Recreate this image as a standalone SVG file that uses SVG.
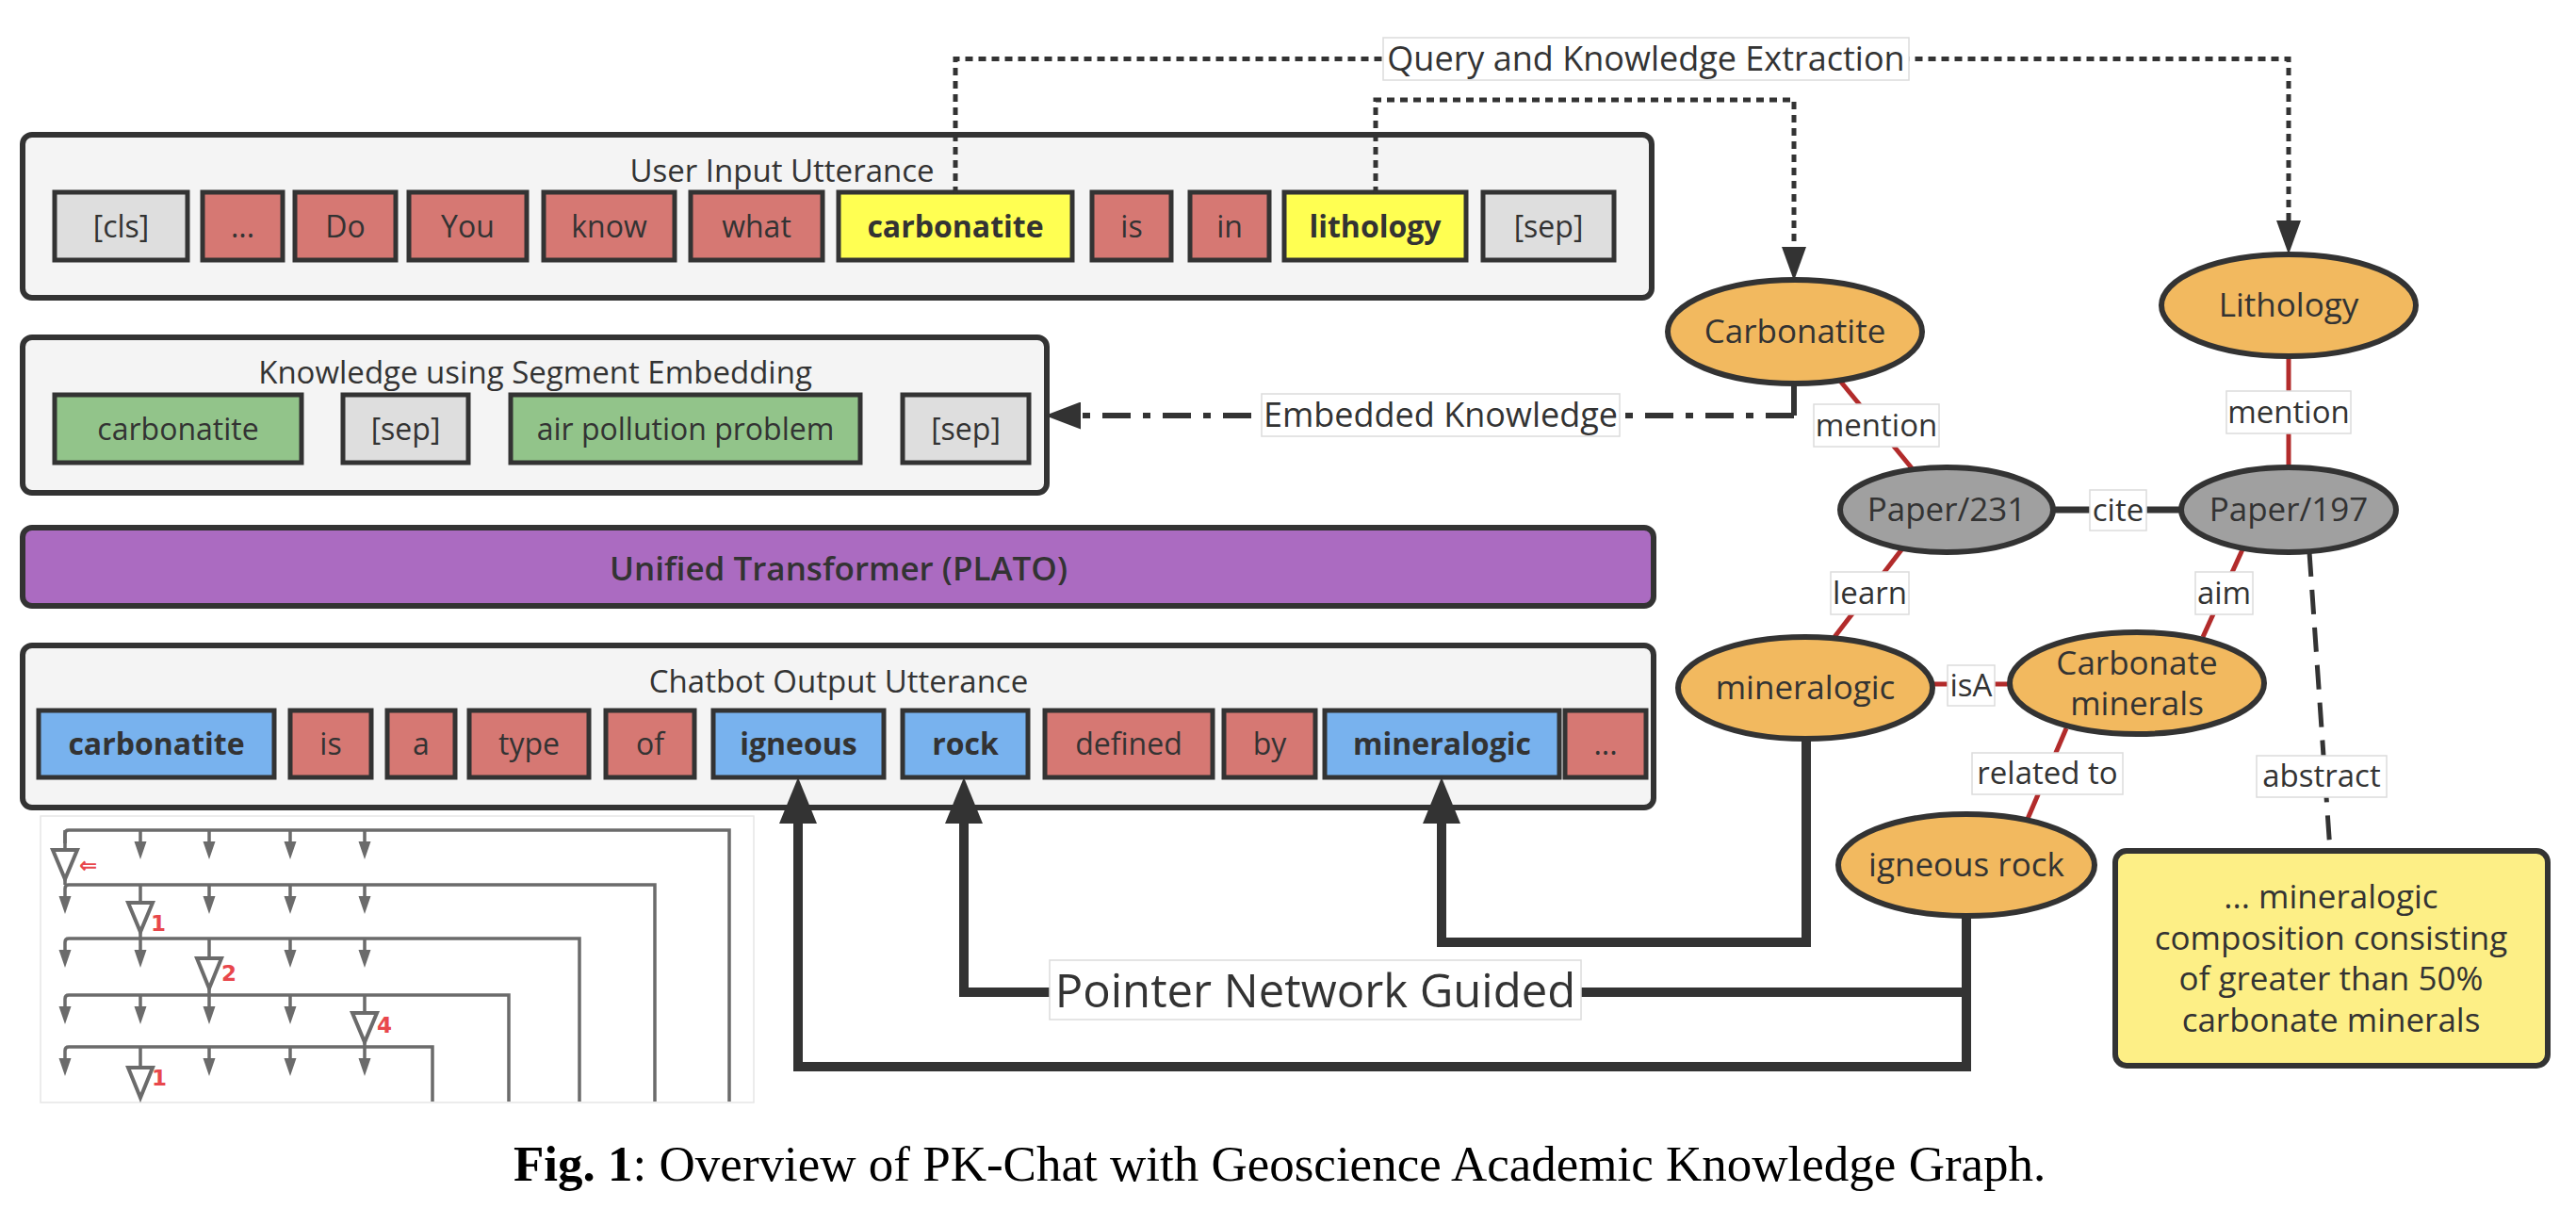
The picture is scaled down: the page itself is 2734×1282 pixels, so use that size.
<svg xmlns="http://www.w3.org/2000/svg" width="2734" height="1282" viewBox="0 0 2734 1282">
<style>
.t{font-family:"Open Sans","Liberation Sans",sans-serif;fill:#333;text-anchor:middle}
.tok{font-size:32px}
.b{font-weight:700}
.ttl{font-size:33px}
.el{font-size:35px}
.lb{font-size:33px}
.box{fill:#f4f4f4;stroke:#333;stroke-width:6}
.tk{stroke:#333;stroke-width:5}
.gy{fill:#dedede}.rd{fill:#d67873}.yl{fill:#ffff52}.gn{fill:#92c48a}.bl{fill:#78b2ee}
.ell{stroke:#333;stroke-width:6}
.or{fill:#f2b95f}.pg{fill:#a0a0a0}
.lbl{fill:#fff;stroke:#dcdcdc;stroke-width:1.5}
.redE{stroke:#b22b2b;stroke-width:5;fill:none}
.dot{stroke:#333;stroke-width:5;fill:none;stroke-dasharray:8 6}
.thick{stroke:#333;stroke-width:10;fill:none;stroke-linejoin:miter}
.pn{stroke:#6b6b6b;stroke-width:3.5;fill:none}
.pa{fill:#6b6b6b}
.pt{fill:#fff;stroke:#6b6b6b;stroke-width:4}
.rn{font-family:"DejaVu Sans","Liberation Sans",sans-serif;fill:#e8474c;font-size:23px;font-weight:700}
</style>
<defs>
<marker id="arr" viewBox="0 0 36 26" refX="0" refY="13" markerWidth="36" markerHeight="26" markerUnits="userSpaceOnUse" orient="auto"><path d="M0,0 L36,13 L0,26 z" fill="#333"/></marker>
<marker id="arrE" viewBox="0 0 38 29" refX="0" refY="14.5" markerWidth="38" markerHeight="29" markerUnits="userSpaceOnUse" orient="auto"><path d="M0,0 L38,14.5 L0,29 z" fill="#333"/></marker>
<marker id="big" viewBox="0 0 49 40" refX="0" refY="20" markerWidth="49" markerHeight="40" markerUnits="userSpaceOnUse" orient="auto"><path d="M0,0 L49,20 L0,40 z" fill="#333"/></marker>
</defs>
<rect width="2734" height="1282" fill="#fff"/>

<!-- User input -->
<g id="user-input">
<rect class="box" x="24" y="143" width="1729" height="173" rx="10"/>
<text class="t ttl" x="830" y="193">User Input Utterance</text>
<rect class="tk gy" x="58" y="204" width="141" height="72"/><text class="t tok" x="128.5" y="252">[cls]</text>
<rect class="tk rd" x="215" y="204" width="85" height="72"/><text class="t tok" x="257.5" y="252">...</text>
<rect class="tk rd" x="313" y="204" width="107" height="72"/><text class="t tok" x="366.5" y="252">Do</text>
<rect class="tk rd" x="434" y="204" width="125" height="72"/><text class="t tok" x="496.5" y="252">You</text>
<rect class="tk rd" x="577" y="204" width="139" height="72"/><text class="t tok" x="646.5" y="252">know</text>
<rect class="tk rd" x="733" y="204" width="140" height="72"/><text class="t tok" x="803" y="252">what</text>
<rect class="tk yl" x="890" y="204" width="248" height="72"/><text class="t tok b" x="1014" y="252">carbonatite</text>
<rect class="tk rd" x="1159" y="204" width="84" height="72"/><text class="t tok" x="1201" y="252">is</text>
<rect class="tk rd" x="1263" y="204" width="84" height="72"/><text class="t tok" x="1305" y="252">in</text>
<rect class="tk yl" x="1363" y="204" width="193" height="72"/><text class="t tok b" x="1459.5" y="252">lithology</text>
<rect class="tk gy" x="1574" y="204" width="139" height="72"/><text class="t tok" x="1643.5" y="252">[sep]</text>
</g>

<g id="knowledge">
<rect class="box" x="24" y="358" width="1087" height="165" rx="10"/>
<text class="t ttl" x="568" y="407">Knowledge using Segment Embedding</text>
<rect class="tk gn" x="58" y="419" width="262" height="72"/><text class="t tok" x="189" y="467">carbonatite</text>
<rect class="tk gy" x="364" y="419" width="133" height="72"/><text class="t tok" x="430.5" y="467">[sep]</text>
<rect class="tk gn" x="542" y="419" width="371" height="72"/><text class="t tok" x="727.5" y="467">air pollution problem</text>
<rect class="tk gy" x="958" y="419" width="134" height="72"/><text class="t tok" x="1025" y="467">[sep]</text>
</g>

<g id="plato">
<rect x="24" y="560" width="1731" height="83" rx="10" fill="#ab6bc1" stroke="#333" stroke-width="6"/>
<text class="t" x="890" y="616" style="font-size:35px;font-weight:600">Unified Transformer (PLATO)</text>
</g>

<g id="chatbot-output">
<rect class="box" x="24" y="685" width="1731" height="172" rx="10"/>
<text class="t ttl" x="890" y="735">Chatbot Output Utterance</text>
<rect class="tk bl" x="41" y="754" width="250" height="71"/><text class="t tok b" x="166" y="801">carbonatite</text>
<rect class="tk rd" x="308" y="754" width="86" height="71"/><text class="t tok" x="351" y="801">is</text>
<rect class="tk rd" x="411" y="754" width="72" height="71"/><text class="t tok" x="447" y="801">a</text>
<rect class="tk rd" x="498" y="754" width="127" height="71"/><text class="t tok" x="561.5" y="801">type</text>
<rect class="tk rd" x="643" y="754" width="94" height="71"/><text class="t tok" x="690" y="801">of</text>
<rect class="tk bl" x="757" y="754" width="181" height="71"/><text class="t tok b" x="847.5" y="801">igneous</text>
<rect class="tk bl" x="958" y="754" width="133" height="71"/><text class="t tok b" x="1024.5" y="801">rock</text>
<rect class="tk rd" x="1109" y="754" width="178" height="71"/><text class="t tok" x="1198" y="801">defined</text>
<rect class="tk rd" x="1299" y="754" width="97" height="71"/><text class="t tok" x="1347.5" y="801">by</text>
<rect class="tk bl" x="1406" y="754" width="249" height="71"/><text class="t tok b" x="1530.5" y="801">mineralogic</text>
<rect class="tk rd" x="1661" y="754" width="86" height="71"/><text class="t tok" x="1704" y="801">...</text>
</g>

<!-- pointer network illustration -->
<g id="pointer-network-illustration">
<rect x="43" y="866" width="757" height="304" fill="#fff" stroke="#e6e6e6" stroke-width="1.5"/>
<path class="pn" d="M69,895 V885 Q69,881 73,881 H774 V1169"/>
<path class="pn" d="M69,953 V943 Q69,939 73,939 H695 V1169"/>
<path class="pn" d="M69,1010 V1000 Q69,996 73,996 H615 V1169"/>
<path class="pn" d="M69,1070 V1060 Q69,1056 73,1056 H540 V1169"/>
<path class="pn" d="M69,1125 V1115 Q69,1111 73,1111 H459 V1169"/>
<!-- row1 small arrows -->
<path class="pn" d="M149,881 V895 M222,881 V895 M308,881 V895 M387,881 V895"/>
<path class="pa" d="M142.5,893 h13 l-6.5,19 z M215.5,893 h13 l-6.5,19 z M301.5,893 h13 l-6.5,19 z M380.5,893 h13 l-6.5,19 z"/>
<!-- row2 -->
<path class="pn" d="M222,939 V953 M308,939 V953 M387,939 V953"/>
<path class="pa" d="M62.5,951 h13 l-6.5,19 z M215.5,951 h13 l-6.5,19 z M301.5,951 h13 l-6.5,19 z M380.5,951 h13 l-6.5,19 z"/>
<!-- row3 -->
<path class="pn" d="M149,996 V1010 M308,996 V1010 M387,996 V1010"/>
<path class="pa" d="M62.5,1008 h13 l-6.5,19 z M142.5,1008 h13 l-6.5,19 z M301.5,1008 h13 l-6.5,19 z M380.5,1008 h13 l-6.5,19 z"/>
<!-- row4 -->
<path class="pn" d="M149,1056 V1070 M222,1056 V1070 M308,1056 V1070"/>
<path class="pa" d="M62.5,1068 h13 l-6.5,19 z M142.5,1068 h13 l-6.5,19 z M215.5,1068 h13 l-6.5,19 z M301.5,1068 h13 l-6.5,19 z"/>
<!-- row5 -->
<path class="pn" d="M222,1111 V1125 M308,1111 V1125 M387,1111 V1125"/>
<path class="pa" d="M62.5,1123 h13 l-6.5,19 z M215.5,1123 h13 l-6.5,19 z M301.5,1123 h13 l-6.5,19 z M380.5,1123 h13 l-6.5,19 z"/>
<!-- selected stems and hollow triangles -->
<path class="pn" d="M69,881 V939 M149,939 V996 M222,996 V1056 M387,1056 V1111 M149,1111 V1150"/>
<path class="pt" d="M56,902 H82 L69,933 Z"/>
<path class="pt" d="M136,958 H162 L149,989 Z"/>
<path class="pt" d="M209,1017 H235 L222,1049 Z"/>
<path class="pt" d="M374,1075 H400 L387,1106 Z"/>
<path class="pt" d="M136,1133 H162 L149,1165 Z"/>
<text class="rn" x="84" y="926">⇐</text>
<text class="rn" x="160" y="988">1</text>
<text class="rn" x="235" y="1041">2</text>
<text class="rn" x="400" y="1096">4</text>
<text class="rn" x="161" y="1152">1</text>
</g>

<!-- connectors -->
<g id="connectors">
<path class="dot" d="M1014,206 V62.5 H2429 V234" marker-end="url(#arr)"/>
<path class="dot" d="M1460,206 V106 H1904 V262" marker-end="url(#arr)"/>
<path d="M1904,407 V441" stroke="#333" stroke-width="6"/>
<path d="M1904,441 H1147" stroke="#333" stroke-width="6" fill="none" stroke-dasharray="30 13 8 13" marker-end="url(#arrE)"/>
<path class="redE" d="M1952,403 L2030,498"/>
<path class="redE" d="M2429,379 V496"/>
<path class="redE" d="M2020,581 L1947,676"/>
<path class="redE" d="M2381,581 L2338,676"/>
<path class="redE" d="M2051,726 H2133"/>
<path class="redE" d="M2193,773 L2152,869"/>
<path d="M2180,541 H2314" stroke="#333" stroke-width="7"/>
<path d="M2451,586 L2473,903" stroke="#333" stroke-width="5" stroke-dasharray="26 14" fill="none"/>
<path class="thick" d="M2087,972 V1132 H847 V874" marker-end="url(#big)"/>
<path class="thick" d="M2087,1053 H1023 V874" marker-end="url(#big)"/>
<path class="thick" d="M1917,784 V1000 H1530 V874" marker-end="url(#big)"/>
<rect class="lbl" x="1468" y="40" width="558" height="45"/><text class="t" style="font-size:36px" x="1747" y="75">Query and Knowledge Extraction</text>
<rect class="lbl" x="1339" y="418" width="380" height="45"/><text class="t" style="font-size:36px" x="1529" y="453">Embedded Knowledge</text>
<rect class="lbl" x="1925" y="429" width="133" height="45"/><text class="t lb" x="1991.5" y="463">mention</text>
<rect class="lbl" x="2363" y="415" width="132" height="45"/><text class="t lb" x="2429" y="449">mention</text>
<rect class="lbl" x="2218" y="520" width="60" height="43"/><text class="t lb" x="2248" y="553">cite</text>
<rect class="lbl" x="1943" y="607" width="83" height="45"/><text class="t lb" x="1984.5" y="641">learn</text>
<rect class="lbl" x="2330" y="607" width="61" height="45"/><text class="t lb" x="2360.5" y="641">aim</text>
<rect class="lbl" x="2067" y="706" width="50" height="43"/><text class="t lb" x="2092" y="739">isA</text>
<rect class="lbl" x="2093" y="799" width="160" height="44"/><text class="t lb" x="2173" y="832">related to</text>
<rect class="lbl" x="2395" y="802" width="138" height="44"/><text class="t lb" x="2464" y="835">abstract</text>
<rect class="lbl" x="1114" y="1019" width="564" height="63"/><text class="t" style="font-size:49px" x="1396" y="1069">Pointer Network Guided</text>
</g>

<g id="n-carbonatite"><ellipse class="ell or" cx="1905" cy="352" rx="135" ry="55"/><text class="t el" x="1905" y="364">Carbonatite</text></g>
<g id="n-lithology"><ellipse class="ell or" cx="2429" cy="324" rx="135" ry="54"/><text class="t el" x="2429" y="336">Lithology</text></g>
<g id="n-paper231"><ellipse class="ell pg" cx="2066" cy="541" rx="113" ry="45"/><text class="t el" x="2066" y="553">Paper/231</text></g>
<g id="n-paper197"><ellipse class="ell pg" cx="2429" cy="541" rx="114" ry="45"/><text class="t el" x="2429" y="553">Paper/197</text></g>
<g id="n-mineralogic"><ellipse class="ell or" cx="1916" cy="730" rx="135" ry="54"/><text class="t el" x="1916" y="742">mineralogic</text></g>
<g id="n-carbonate-minerals"><ellipse class="ell or" cx="2268" cy="725" rx="135" ry="54"/><text class="t el" x="2268" y="716">Carbonate</text><text class="t el" x="2268" y="759">minerals</text></g>
<g id="n-igneous-rock"><ellipse class="ell or" cx="2087" cy="918" rx="136" ry="54"/><text class="t el" x="2087" y="930">igneous rock</text></g>
<g id="n-abstract">
<rect x="2245" y="903" width="459" height="228" rx="12" fill="#fdef86" stroke="#333" stroke-width="6"/>
<text class="t el" x="2474" y="964">... mineralogic</text>
<text class="t el" x="2474" y="1008">composition consisting</text>
<text class="t el" x="2474" y="1051">of greater than 50%</text>
<text class="t el" x="2474" y="1095">carbonate minerals</text>
</g>

<text x="545" y="1253" font-family="'Liberation Serif','Times New Roman',serif" font-size="53" fill="#000"><tspan font-weight="700">Fig. 1</tspan>: Overview of PK-Chat with Geoscience Academic Knowledge Graph.</text>
</svg>
